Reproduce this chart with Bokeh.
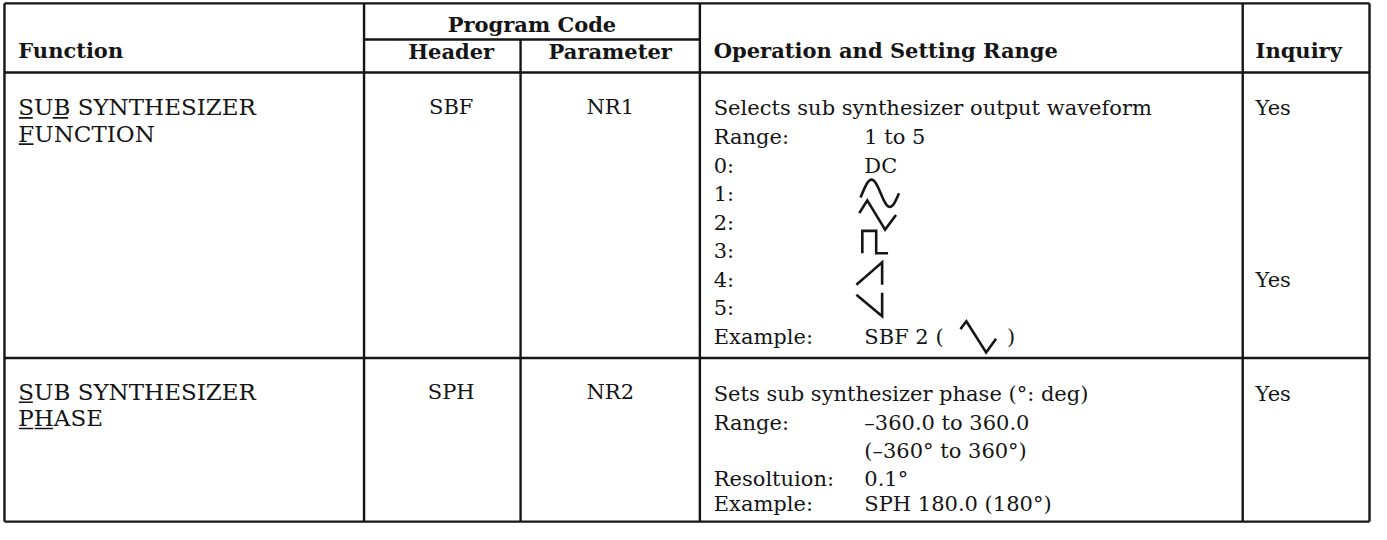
import numpy as np
from bokeh.plotting import figure
from bokeh.models import Range1d, ColumnDataSource
from bokeh.embed import file_html
from bokeh.resources import INLINE
from bokeh.core.properties import value

# ---------------- data (table content) ----------------
group_header = "Program Code"
column_headers = ["Function", "Header", "Parameter", "Operation and Setting Range", "Inquiry"]

function_lines = [["SUB SYNTHESIZER", "FUNCTION"], ["SUB SYNTHESIZER", "PHASE"]]
underlined_letters = [[[0, 2], [0]], [[0], [0, 1]]]   # indices of underlined letters per line
program_headers = ["SBF", "SPH"]
parameters = ["NR1", "NR2"]

op_labels_1 = ["Selects sub synthesizer output waveform", "Range:", "0:", "1:", "2:", "3:",
               "4:", "5:", "Example:"]
op_values_1 = ["", "1 to 5", "DC", "", "", "", "", "", "SBF 2 ("]
example_close_1 = ")"
waveform_lines_1 = {3: "sine", 4: "triangle", 5: "square", 6: "ramp_up", 7: "ramp_down"}
inquiry_1 = {0: "Yes", 6: "Yes"}

op_labels_2 = ["Sets sub synthesizer phase (\u00b0: deg)", "Range:", "", "Resoltuion:", "Example:"]
op_values_2 = ["", "\u2013360.0 to 360.0", "(\u2013360\u00b0 to 360\u00b0)", "0.1\u00b0",
               "SPH 180.0 (180\u00b0)"]
inquiry_2 = {0: "Yes"}

# ---------------- layout (reference pixel space, y downward) ----------------
COLS = [7, 370, 528, 709, 1257, 1385]
Y_TOP, Y_GROUP, Y_HEAD, Y_SPLIT, Y_BOT = 6, 43, 77, 370, 538
FONT = "DejaVu Serif"
FS = 21
INK = "#151515"
TEXT_SHIFT = -7   # screen px correction so that glyph baselines sit on the given y

p = figure(width=1371, height=524, x_range=Range1d(3, 1387), y_range=Range1d(541, 3),
           output_backend="svg", toolbar_location=None, min_border=0,
           x_axis_location=None, y_axis_location=None)
p.grid.visible = False
p.outline_line_color = None
p.background_fill_color = "white"
p.border_fill_color = "white"

# ---------------- rules ----------------
sx0, sy0, sx1, sy1 = [], [], [], []
def seg(a, b, c, d):
    sx0.append(a); sy0.append(b); sx1.append(c); sy1.append(d)

for yy in (Y_TOP, Y_HEAD, Y_SPLIT, Y_BOT):
    seg(COLS[0], yy, COLS[-1], yy)
seg(COLS[1], Y_GROUP, COLS[3], Y_GROUP)
for i, xx in enumerate(COLS):
    seg(xx, Y_GROUP if i == 2 else Y_TOP, xx, Y_BOT)
p.segment(sx0, sy0, sx1, sy1, line_color=INK, line_width=2.4)

# ---------------- text helpers ----------------
def add_text(xs, ys, texts, bold=False, align="left", size=FS):
    src = ColumnDataSource(dict(x=xs, y=ys, t=texts))
    p.text("x", "y", text="t", source=src, text_font=value(FONT),
           text_font_size=value(f"{size}px"),
           text_font_style="bold" if bold else "normal", text_align=align,
           text_baseline="alphabetic", text_color=INK, y_offset=TEXT_SHIFT)

HDR_X = 458
PAR_X = (COLS[2] + COLS[3]) / 2

# header
add_text([(COLS[1] + COLS[3]) / 2], [35], [group_header], bold=True, align="center")
add_text([21, 723, 1270], [62, 62, 62],
         [column_headers[0], column_headers[3], column_headers[4]], bold=True)
add_text([HDR_X, PAR_X], [63, 63], [column_headers[1], column_headers[2]],
         bold=True, align="center")

# row baselines
row1_func = [120, 147]
row2_func = [412, 439]
pitch1 = 29.3
row1_ops = [121 + pitch1 * i for i in range(len(op_labels_1))]
row2_ops = [414, 444, 473, 501, 527]

# function column with underlined letters
FFS = 23
ADV = {"S": 0.68, "U": 0.81, "B": 0.74, "F": 0.71, "P": 0.70, "H": 0.87}
ux0, uy0, ux1, uy1 = [], [], [], []
for r, (lines, bases) in enumerate(zip(function_lines, [row1_func, row2_func])):
    add_text([21] * len(lines), bases, lines, size=FFS)
    for li, (line, base) in enumerate(zip(lines, bases)):
        for idx in underlined_letters[r][li]:
            start = 21 + sum(ADV.get(ch, 0.75) * FFS for ch in line[:idx])
            w = ADV.get(line[idx], 0.75) * FFS
            ux0.append(start + 0.5); ux1.append(start + w - 1)
            uy0.append(base + 3.5); uy1.append(base + 3.5)
p.segment(ux0, uy0, ux1, uy1, line_color=INK, line_width=1.6)

# program code cells
add_text([HDR_X] * 2, [row1_func[0], row2_func[0]], program_headers, align="center")
add_text([PAR_X] * 2, [row1_func[0], row2_func[0]], parameters, align="center")

# operation column
add_text([723] * len(op_labels_1), row1_ops, op_labels_1)
v1 = [(v, y) for v, y in zip(op_values_1, row1_ops) if v]
add_text([875] * len(v1), [y for _, y in v1], [v for v, _ in v1])
add_text([1019], [row1_ops[8]], [example_close_1])
add_text([723] * len(op_labels_2), row2_ops, op_labels_2)
v2 = [(v, y) for v, y in zip(op_values_2, row2_ops) if v]
add_text([875] * len(v2), [y for _, y in v2], [v for v, _ in v2])

# inquiry column
iq = [(t, row1_ops[k]) for k, t in inquiry_1.items()] + [(t, row2_ops[k]) for k, t in inquiry_2.items()]
add_text([1270] * len(iq), [y for _, y in iq], [t for t, _ in iq])

# waveform symbols (shape templates relative to anchor x and line baseline)
tt = np.linspace(-0.05, 1.0, 40)
SHAPES = {
    "sine": (list(873 + 37 * tt), list(-8 - 14 * np.sin(2 * np.pi * tt))),
    "triangle": ([870, 878, 896, 907], [-17, -30, 0, -15]),
    "square": ([873, 873, 887, 887, 899], [-5, -28, -28, -5, -5]),
    "ramp_up": ([867, 893, 893], [-2, -25, -2]),
    "ramp_down": ([867, 893, 893], [-21, 1, -23]),
    "example": ([972, 978, 998, 1008], [-15, -23, 9, -5]),
}
wxs, wys = [], []
for k, name in waveform_lines_1.items():
    xs, ys = SHAPES[name]
    wxs.append(xs); wys.append([row1_ops[k] + v for v in ys])
xs, ys = SHAPES["example"]
wxs.append(xs); wys.append([row1_ops[8] + v for v in ys])
p.multi_line(wxs, wys, line_color=INK, line_width=2.6, line_join="miter")

open("out.html", "w").write(file_html(p, INLINE))
